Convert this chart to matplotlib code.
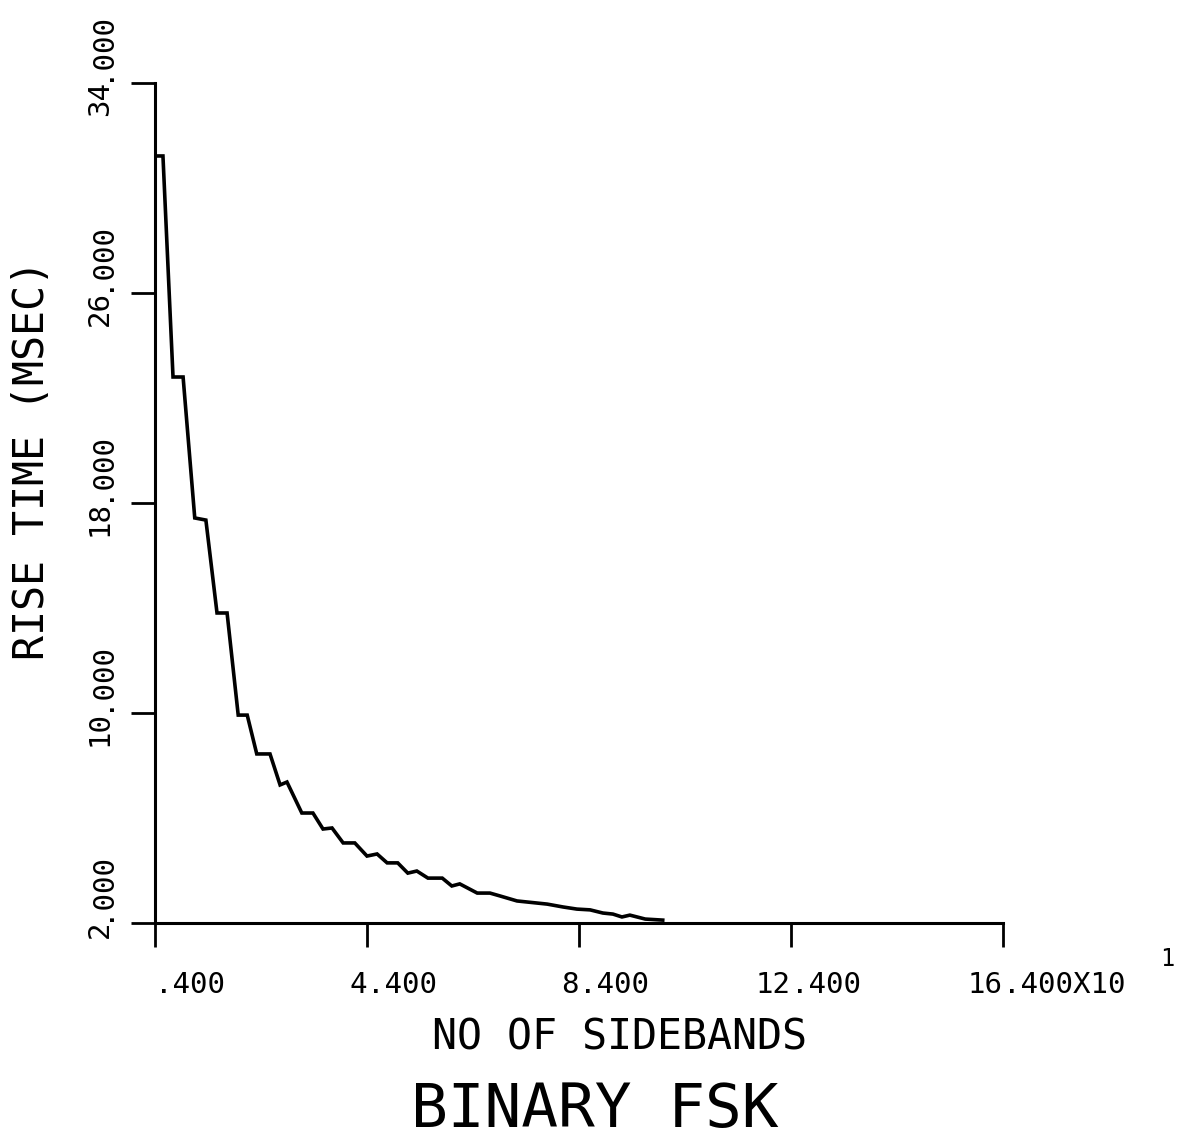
import matplotlib
matplotlib.use("Agg")
import matplotlib.pyplot as plt
from matplotlib.transforms import offset_copy

# values (x in units of 10^1 sidebands, y in msec)
sidebands = [0.40, 0.55, 0.74, 0.93, 1.15, 1.36, 1.57, 1.76, 1.97, 2.14,
             2.32, 2.57, 2.76, 2.89, 3.17, 3.38, 3.57, 3.74, 3.95, 4.17,
             4.40, 4.59, 4.78, 4.98, 5.17, 5.34, 5.55, 5.82, 6.00, 6.15,
             6.48, 6.72, 6.91, 7.23, 7.61, 7.80, 8.10, 8.36, 8.61, 8.85,
             9.04, 9.21, 9.36, 9.65, 9.98]
rise_time = [31.22, 31.22, 22.80, 22.80, 17.43, 17.35, 13.81, 13.81, 9.92, 9.92,
             8.44, 8.44, 7.26, 7.37, 6.19, 6.19, 5.58, 5.62, 5.05, 5.05,
             4.55, 4.63, 4.29, 4.29, 3.90, 3.98, 3.71, 3.71, 3.41, 3.49,
             3.14, 3.14, 3.03, 2.84, 2.76, 2.72, 2.61, 2.53, 2.50, 2.38,
             2.34, 2.23, 2.30, 2.15, 2.11]

xticks = [0.4, 4.4, 8.4, 12.4, 16.4]
xtick_labels = [".400", "4.400", "8.400", "12.400", "16.400X10"]
yticks = [2, 10, 18, 26, 34]
ytick_labels = ["2.000", "10.000", "18.000", "26.000", "34.000"]

font = "DejaVu Sans Mono"

fig = plt.figure(figsize=(11.8, 11.46), dpi=100)
ax = fig.add_axes([155 / 1180, 1 - 923 / 1146, 848 / 1180, 840 / 1146])

ax.plot(sidebands, rise_time, color="black", lw=2.6, solid_joinstyle="miter")

ax.set_xlim(0.4, 16.4)
ax.set_ylim(2, 34)
for s in ["top", "right"]:
    ax.spines[s].set_visible(False)
for s in ["left", "bottom"]:
    ax.spines[s].set_linewidth(2.2)
ax.set_xticks(xticks)
ax.set_yticks(yticks)
ax.tick_params(length=17, width=2, direction="out",
               labelbottom=False, labelleft=False)

# tick labels lined up on the decimal point, plotter style
xt = offset_copy(ax.get_xaxis_transform(), fig=fig, x=0, y=-70, units="dots")
for x, lab in zip(xticks, xtick_labels):
    ip, fp = lab.split(".")
    if ip:
        ax.text(x, 0, ip, transform=xt, ha="right", va="baseline",
                fontsize=21, family=font)
    ax.text(x, 0, "." + fp, transform=xt, ha="left", va="baseline",
            fontsize=21, family=font)

yt = offset_copy(ax.get_yaxis_transform(), fig=fig, x=-55, y=2, units="dots")
for y, lab in zip(yticks, ytick_labels):
    ip, fp = lab.split(".")
    ax.text(0, y, ip, transform=yt, ha="center", va="top", rotation=90,
            fontsize=21, family=font)
    ax.text(0, y, "." + fp, transform=yt, ha="center", va="bottom", rotation=90,
            fontsize=21, family=font)

# exponent of the x scale
fig.text(1167 / 1180, 1 - 959 / 1146, "1", fontsize=17, family=font,
         ha="center", va="center")

fig.text(619 / 1180, 1 - 1037 / 1146, "NO OF SIDEBANDS", fontsize=30,
         family=font, ha="center", va="center")
fig.text(32 / 1180, 1 - 460 / 1146, "RISE TIME (MSEC)", fontsize=30,
         family=font, ha="center", va="center", rotation=90)
fig.text(595 / 1180, 1 - 1111 / 1146, "BINARY FSK", fontsize=44,
         family=font, ha="center", va="center")

fig.savefig("out.png", dpi=100, facecolor="white")
